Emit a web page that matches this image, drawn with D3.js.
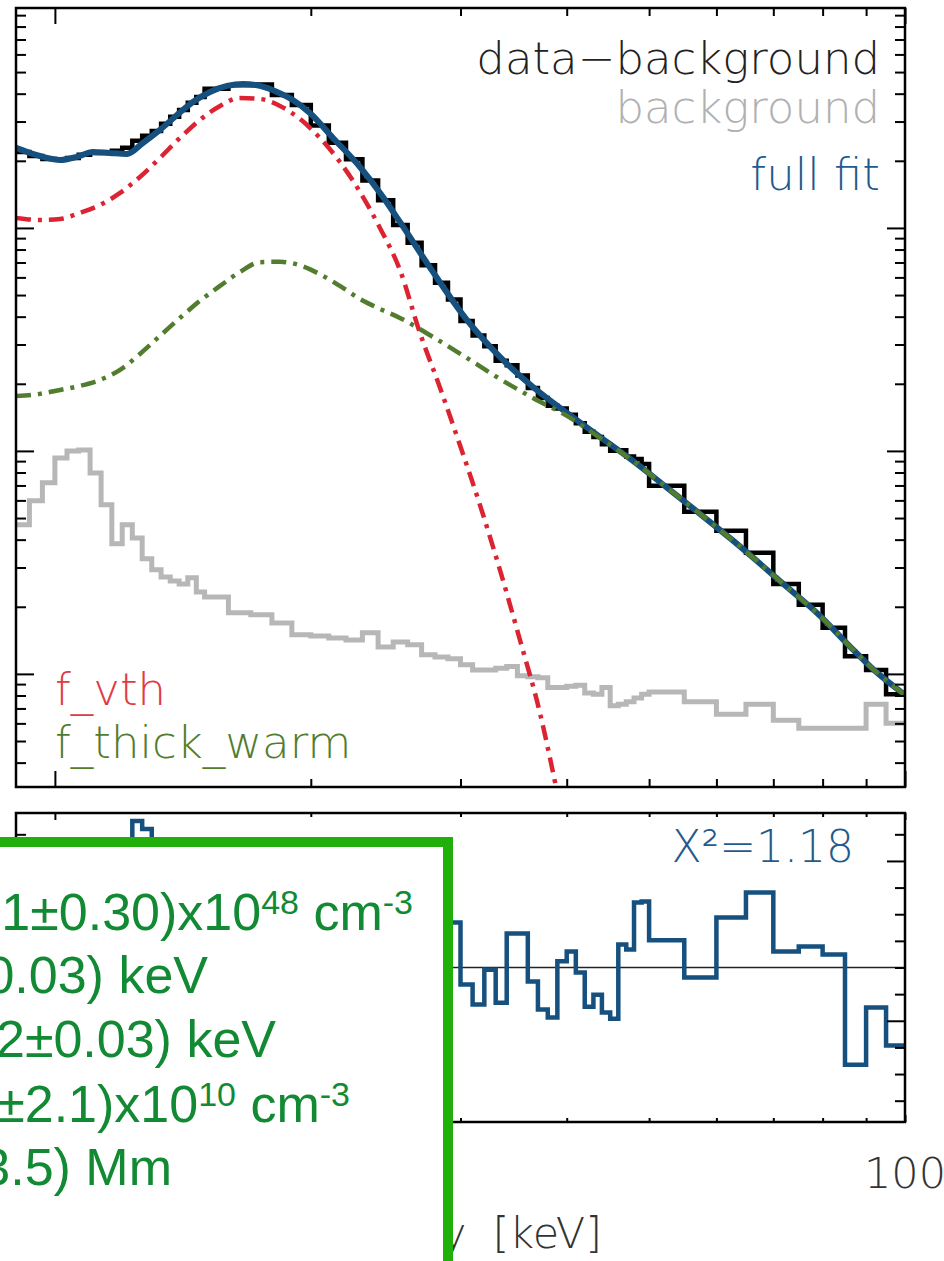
<!DOCTYPE html>
<html>
<head>
<meta charset="utf-8">
<script src="https://cdn.jsdelivr.net/npm/d3@7"></script>
<style>
html, body { margin:0; padding:0; background:#fff; }
svg { display:block; }
.lbl { font-family:"DejaVu Sans", sans-serif; font-weight:200; }
.box { font-family:"Liberation Sans", Arial, sans-serif; }
</style>
</head>
<body>
<svg id="chart" width="944" height="1261"></svg>
<script>
// energy bin edges [keV]
var binEdges = [9, 9.333, 9.667, 10, 10.333, 10.667, 11, 11.333, 11.667, 12, 12.333, 12.667, 13, 13.333, 13.667, 14, 14.333, 14.667, 15,
  16, 17, 18, 19, 20, 21, 22, 23, 24, 25, 26, 27, 28, 29, 30, 31, 32, 33, 34, 35, 36, 37, 38, 39, 40, 41, 42, 43, 44, 45, 46, 47, 48, 49, 50,
  55, 60, 65, 70, 75, 80, 85, 90, 95, 100];

// data - background (one value per bin)
var dataBg = [21.9, 21.0, 20.4, 20.2, 20.6, 21.3, 21.7, 21.7, 22.2, 22.9, 24.6, 25.9, 27.2, 29.3, 31.5, 33.8, 36.4, 38.7,
  42.1, 43.6, 44.0, 39.5, 35.6, 28.8, 24.1, 20.3, 16.3, 13.3, 10.3, 8.58, 6.80, 5.68, 4.78, 3.82, 3.29, 2.95, 2.54, 2.42,
  2.18, 1.915, 1.725, 1.595, 1.551, 1.453, 1.330, 1.218, 1.155, 1.071, 1.002, 1.007, 0.944, 0.920, 0.874,
  0.697, 0.533, 0.438, 0.349, 0.253, 0.204, 0.161, 0.120, 0.104, 0.081];

// background (one value per bin)
var background = [0.466, 0.597, 0.719, 0.930, 1.000, 1.010, 0.797, 0.573, 0.383, 0.466, 0.407, 0.328, 0.293, 0.272, 0.261, 0.253, 0.270, 0.233,
  0.221, 0.188, 0.184, 0.169, 0.150, 0.148, 0.145, 0.142, 0.153, 0.132, 0.139, 0.135, 0.122, 0.119, 0.117, 0.110, 0.104, 0.104, 0.106, 0.108,
  0.098, 0.097, 0.096, 0.087, 0.087, 0.088, 0.089, 0.082, 0.081, 0.087, 0.072, 0.073, 0.075, 0.078, 0.081,
  0.083, 0.075, 0.066, 0.073, 0.062, 0.057, 0.057, 0.057, 0.073, 0.060];

// normalised residuals (one value per bin)
var residuals = [0.8, -0.5, 1.2, -1.0, 0.3, 2.1, -0.4, 1.5, 3.2, 4.1, 5.5, 5.2, 2.8, 0.9, -1.2, -2.0, -0.6, 1.1,
  0.5, -0.8, 1.4, -0.3, 0.7, -1.1, 0.2, 1.0, -0.6, 0.4, -1.3, 0.8, -0.2, 0.9, 1.69, -0.64, -1.39, -0.08, -1.32, 1.28,
  1.28, -0.53, -1.58, -1.88, 0.23, 0.60, -0.19, -1.47, -1.02, -1.69, -1.92, 0.86, 0.68, 2.44, 2.48,
  1.02, -0.38, 1.88, 2.82, 0.60, 0.79, 0.49, -3.65, -1.50, -2.93];

// full fit
var fitE = [9.0, 9.27, 9.68, 10.14, 10.61, 11.08, 11.60, 12.15, 12.69, 13.29, 13.92, 14.53, 15.22, 15.94, 16.64, 17.43, 18.25, 19.05, 19.95,
  21.24, 22.85, 24.32, 25.46, 27.84, 30.52, 33.38, 36.51, 40.03, 43.77, 47.86, 52.34, 57.39, 62.41, 67.34, 71.66, 79.21, 85.94, 91.46, 100];
var fitV = [22.85, 21.92, 20.82, 20.18, 20.82, 21.92, 21.69, 21.47, 24.05, 27.51, 32.11, 36.73, 40.73, 43.33, 44.23, 43.33, 40.73, 37.50, 32.78,
  25.33, 18.77, 13.77, 10.64, 6.35, 3.868, 2.639, 1.936, 1.480, 1.156, 0.902, 0.690, 0.522, 0.403, 0.315, 0.256, 0.184, 0.134, 0.106, 0.0805];

// f_vth
var vthE = [9.0, 9.60, 10.14, 10.70, 11.30, 11.93, 12.59, 13.29, 14.03, 14.81, 15.64, 16.51, 17.43, 18.40, 19.42, 20.50, 21.64, 22.85,
  24.12, 25.46, 26.88, 28.38, 29.96, 31.62, 33.38, 35.24, 37.20, 38.86, 40.0];
var vthV = [11.09, 10.86, 10.97, 11.68, 12.68, 14.35, 16.93, 20.60, 25.32, 30.50, 35.25, 38.29, 37.89, 35.25, 30.82, 25.32, 19.77, 14.50,
  10.0, 6.48, 3.38, 1.92, 1.06, 0.573, 0.293, 0.142, 0.0669, 0.0311, 0.018];

// f_thick_warm
var warmE = [9.0, 9.60, 10.14, 10.70, 11.30, 11.93, 12.59, 13.29, 14.03, 14.81, 15.64, 16.51, 17.43, 18.40, 19.42, 20.50, 21.64, 22.85,
  24.12, 25.46, 27.84, 30.52, 33.38, 36.51, 40.03, 43.77, 47.86, 52.34, 57.39, 62.41, 67.34, 71.66, 79.21, 85.94, 91.46, 100];
var warmV = [1.765, 1.802, 1.877, 1.956, 2.082, 2.308, 2.722, 3.278, 3.949, 4.707, 5.494, 6.35, 7.02, 7.05, 6.80, 6.20, 5.494, 4.804,
  4.333, 3.949, 3.245, 2.612, 2.103, 1.728, 1.435, 1.144, 0.902, 0.690, 0.522, 0.403, 0.315, 0.256, 0.184, 0.134, 0.106, 0.0805];

// ticks
var xMajor = [10, 100];
var xMinor = [20, 30, 40, 50, 60, 70, 80, 90];
var yMajor = [0.1, 1, 10];
var yMinor = [0.04, 0.05, 0.06, 0.07, 0.08, 0.09, 0.2, 0.3, 0.4, 0.5, 0.6, 0.7, 0.8, 0.9,
  2, 3, 4, 5, 6, 7, 8, 9, 20, 30, 40, 50, 60, 70, 80, 90];
var resMajor = [-2, 4];
var resMinor = [-5, -4, -3, -1, 0, 1, 2, 3, 5];

// fit parameters (box)
var fitParams = [
  {pre:"EM = (3.21\u00b10.30)x10", sup:"48", mid:" cm", sup2:"-3"},
  {pre:"T = (1.61\u00b10.03) keV"},
  {pre:"T_loop = (1.12\u00b10.03) keV"},
  {pre:"n_loop = (5.3\u00b12.1)x10", sup:"10", mid:" cm", sup2:"-3"},
  {pre:"L = (12.4\u00b13.5) Mm"}
];

var plotL = 16, plotR = 905;
var topT = 8, topB = 787;
var resT = 813, resB = 1122;

var svg = d3.select("#chart");
var x = d3.scaleLog().domain([9, 100]).range([plotL, plotR]);
var y = d3.scaleLog().domain([0.0311, 96.9]).range([topB, topT]);
var yr = d3.scaleLinear().domain([-5.8, 5.8]).range([resB, resT]);

var defs = svg.append("defs");
defs.append("clipPath").attr("id", "clipTop").append("rect")
  .attr("x", plotL).attr("y", topT).attr("width", plotR - plotL).attr("height", topB - topT);
defs.append("clipPath").attr("id", "clipRes").append("rect")
  .attr("x", plotL).attr("y", resT).attr("width", plotR - plotL).attr("height", resB - resT);

function steps(vals) {
  var pts = [];
  vals.forEach(function(v, i) {
    pts.push([binEdges[i], v]);
    pts.push([binEdges[i + 1], v]);
  });
  return pts;
}
function pairs(es, vs) { return es.map(function(e, i) { return [e, vs[i]]; }); }

var lineTop = d3.line().x(function(d) { return x(d[0]); }).y(function(d) { return y(d[1]); });
var curveTop = d3.line().x(function(d) { return x(d[0]); }).y(function(d) { return y(d[1]); }).curve(d3.curveMonotoneX);
var lineRes = d3.line().x(function(d) { return x(d[0]); }).y(function(d) { return yr(d[1]); });

var gTop = svg.append("g").attr("clip-path", "url(#clipTop)");
gTop.append("path").attr("d", lineTop(steps(background)))
  .attr("fill", "none").attr("stroke", "#b7b7b7").attr("stroke-width", 5);
gTop.append("path").attr("d", lineTop(steps(dataBg)))
  .attr("fill", "none").attr("stroke", "#000").attr("stroke-width", 4.5);
gTop.append("path").attr("d", curveTop(pairs(fitE, fitV)))
  .attr("fill", "none").attr("stroke", "#15507f").attr("stroke-width", 6);
gTop.append("path").attr("d", curveTop(pairs(vthE, vthV)))
  .attr("fill", "none").attr("stroke", "#dc2332").attr("stroke-width", 4.5).attr("stroke-dasharray", "15,7,4,7");
gTop.append("path").attr("d", curveTop(pairs(warmE, warmV)))
  .attr("fill", "none").attr("stroke", "#527d2e").attr("stroke-width", 4.5).attr("stroke-dasharray", "15,7,4,7");

// residual panel
var gRes = svg.append("g").attr("clip-path", "url(#clipRes)");
gRes.append("line").attr("x1", plotL).attr("x2", plotR).attr("y1", yr(0)).attr("y2", yr(0))
  .attr("stroke", "#222").attr("stroke-width", 1.5);
gRes.append("path").attr("d", lineRes(steps(residuals)))
  .attr("fill", "none").attr("stroke", "#15507f").attr("stroke-width", 4.5);

// axes (inward ticks, no labels)
function ax(axis, vals, size, tx, ty) {
  var g = svg.append("g").attr("transform", "translate(" + tx + "," + ty + ")")
    .call(axis.tickValues(vals).tickSize(size).tickFormat(""));
  g.select(".domain").remove();
  g.selectAll(".tick line").attr("stroke", "#000").attr("stroke-width", 2);
}
ax(d3.axisLeft(y), yMajor, -18, plotL, 0);
ax(d3.axisLeft(y), yMinor, -10, plotL, 0);
ax(d3.axisRight(y), yMajor, -18, plotR, 0);
ax(d3.axisRight(y), yMinor, -10, plotR, 0);
ax(d3.axisBottom(x), xMajor, -16, 0, topB);
ax(d3.axisBottom(x), xMinor, -8, 0, topB);
ax(d3.axisTop(x), xMajor, -16, 0, topT);
ax(d3.axisTop(x), xMinor, -8, 0, topT);

ax(d3.axisLeft(yr), resMajor, -18, plotL, 0);
ax(d3.axisLeft(yr), resMinor, -10, plotL, 0);
ax(d3.axisRight(yr), resMajor, -18, plotR, 0);
ax(d3.axisRight(yr), resMinor, -10, plotR, 0);
ax(d3.axisBottom(x), xMajor, -7, 0, resB);
ax(d3.axisBottom(x), xMinor, -4, 0, resB);
ax(d3.axisTop(x), xMajor, -7, 0, resT);
ax(d3.axisTop(x), xMinor, -4, 0, resT);

svg.append("rect").attr("x", plotL).attr("y", topT).attr("width", plotR - plotL).attr("height", topB - topT)
  .attr("fill", "none").attr("stroke", "#000").attr("stroke-width", 2.5);
svg.append("rect").attr("x", plotL).attr("y", resT).attr("width", plotR - plotL).attr("height", resB - resT)
  .attr("fill", "none").attr("stroke", "#000").attr("stroke-width", 2.5);

// legends
function label(txt, tx, ty, anchor, color) {
  return svg.append("text").attr("class", "lbl").attr("x", tx).attr("y", ty)
    .attr("text-anchor", anchor).attr("font-size", 45).attr("fill", color).text(txt);
}
label("data\u2212background", 880, 74, "end", "#222");
label("background", 880, 123, "end", "#b0b0b0");
label("full fit", 880, 190, "end", "#1f5b8c");
label("f_vth", 55, 705, "start", "#e03a44");
label("f_thick_warm", 55, 758, "start", "#527d2e");
label("X\u00b2=1.18", 854, 862, "end", "#1f5b8c").attr("font-size", 44);
label("100", x(100), 1188, "middle", "#333").attr("font-size", 43);
var xt = label("", 602, 1248, "end", "#333").attr("font-size", 43);
xt.append("tspan").text("Energy");
xt.append("tspan").attr("dx", 26).text("[keV]");

// fit-parameter box
svg.append("rect").attr("x", -30).attr("y", 842).attr("width", 478).attr("height", 500)
  .attr("fill", "#fff").attr("stroke", "#21b00b").attr("stroke-width", 10);
var boxEnds = [413, 208, 276, 350, 172];
var boxBase = [930, 993, 1057, 1122, 1185];
fitParams.forEach(function(p, i) {
  var t = svg.append("text").attr("class", "box").attr("x", boxEnds[i]).attr("y", boxBase[i])
    .attr("text-anchor", "end").attr("font-size", 52).attr("fill", "#128a34");
  t.append("tspan").text(p.pre);
  if (p.sup) {
    t.append("tspan").attr("dy", -16).attr("font-size", 34).text(p.sup);
    t.append("tspan").attr("dy", 16).text(p.mid);
    t.append("tspan").attr("dy", -16).attr("font-size", 34).text(p.sup2);
  }
});
</script>
</body>
</html>
